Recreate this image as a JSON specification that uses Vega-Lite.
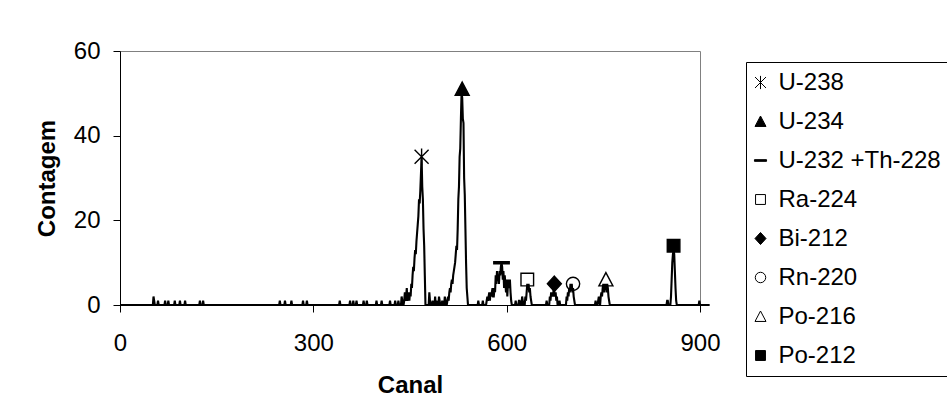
{
"$schema": "https://vega.github.io/schema/vega-lite/v6.json",
"autosize": "none",
"width": 580,
"height": 254,
"padding": {"left": 120, "top": 51, "right": 247, "bottom": 112},
"background": "white",
"config": {
  "view": {"stroke": "#808080", "strokeWidth": 1},
  "font": "Liberation Sans",
  "axis": {"domainColor": "black", "tickColor": "black", "labelColor": "black", "titleColor": "black", "grid": false, "labelFont": "Liberation Sans", "titleFont": "Liberation Sans", "labelFontSize": 24, "titleFontSize": 24, "titleFontWeight": "bold", "tickSize": 7, "domainWidth": 1, "tickWidth": 1},
  "legend": {"title": null, "orient": "none", "legendX": 626, "legendY": 11, "strokeColor": "black", "fillColor": "white", "padding": 8.5, "labelFont": "Liberation Sans", "labelFontSize": 24, "labelColor": "black", "labelLimit": 400, "symbolSize": 121, "symbolStrokeWidth": 1, "symbolOffset": -6, "labelOffset": 6, "rowPadding": 15}
},
"datasets": {
  "spectrum": [
{"canal":0,"contagem":0},{"canal":51,"contagem":0},{"canal":52,"contagem":2},{"canal":53,"contagem":1},{"canal":54,"contagem":0},
{"canal":58,"contagem":0},{"canal":59,"contagem":1},{"canal":60,"contagem":0},{"canal":69,"contagem":0},{"canal":70,"contagem":1},{"canal":71,"contagem":0},
{"canal":74,"contagem":0},{"canal":75,"contagem":1},{"canal":76,"contagem":0},{"canal":84,"contagem":0},{"canal":85,"contagem":1},{"canal":86,"contagem":0},
{"canal":92,"contagem":0},{"canal":93,"contagem":1},{"canal":94,"contagem":0},{"canal":100,"contagem":0},{"canal":101,"contagem":1},{"canal":102,"contagem":0},
{"canal":123,"contagem":0},{"canal":124,"contagem":1},{"canal":125,"contagem":0},{"canal":128,"contagem":0},{"canal":129,"contagem":1},{"canal":130,"contagem":0},
{"canal":247,"contagem":0},{"canal":248,"contagem":1},{"canal":249,"contagem":0},{"canal":255,"contagem":0},{"canal":256,"contagem":1},{"canal":257,"contagem":0},
{"canal":265,"contagem":0},{"canal":266,"contagem":1},{"canal":267,"contagem":0},{"canal":283,"contagem":0},{"canal":284,"contagem":1},{"canal":285,"contagem":0},
{"canal":289,"contagem":0},{"canal":290,"contagem":1},{"canal":291,"contagem":0},{"canal":340,"contagem":0},{"canal":341,"contagem":1},{"canal":342,"contagem":0},
{"canal":356,"contagem":0},{"canal":357,"contagem":1},{"canal":358,"contagem":0},{"canal":361,"contagem":0},{"canal":362,"contagem":1},{"canal":363,"contagem":0},
{"canal":366,"contagem":0},{"canal":367,"contagem":1},{"canal":368,"contagem":0},{"canal":377,"contagem":0},{"canal":378,"contagem":1},{"canal":379,"contagem":0},
{"canal":382,"contagem":0},{"canal":383,"contagem":1},{"canal":384,"contagem":0},{"canal":397,"contagem":0},{"canal":398,"contagem":1},{"canal":399,"contagem":0},
{"canal":405,"contagem":0},{"canal":406,"contagem":1},{"canal":407,"contagem":0},{"canal":418,"contagem":0},{"canal":419,"contagem":1},{"canal":420,"contagem":0},
{"canal":426,"contagem":0},{"canal":427,"contagem":1},{"canal":428,"contagem":0},{"canal":431,"contagem":0},{"canal":432,"contagem":1},{"canal":433,"contagem":0},
{"canal":436,"contagem":0},{"canal":437,"contagem":2},{"canal":438,"contagem":1},{"canal":439,"contagem":0},{"canal":440,"contagem":0},{"canal":441,"contagem":1},
{"canal":442,"contagem":3},{"canal":443,"contagem":1},{"canal":444,"contagem":2},{"canal":445,"contagem":4},{"canal":446,"contagem":1},{"canal":447,"contagem":2},
{"canal":448,"contagem":3},{"canal":449,"contagem":1},{"canal":450,"contagem":3},{"canal":451,"contagem":2},{"canal":452,"contagem":5},{"canal":453,"contagem":4},
{"canal":454,"contagem":7},{"canal":455,"contagem":9},{"canal":456,"contagem":8},{"canal":457,"contagem":11},{"canal":458,"contagem":13},{"canal":459,"contagem":12},
{"canal":460,"contagem":15},{"canal":461,"contagem":17},{"canal":462,"contagem":19},{"canal":463,"contagem":21},{"canal":464,"contagem":25},{"canal":465,"contagem":24},
{"canal":466,"contagem":27},{"canal":467,"contagem":31},{"canal":468,"contagem":35},{"canal":469,"contagem":28},{"canal":470,"contagem":25},{"canal":471,"contagem":18},
{"canal":472,"contagem":14},{"canal":473,"contagem":7},{"canal":474,"contagem":0},{"canal":479,"contagem":0},{"canal":480,"contagem":3},{"canal":481,"contagem":1},
{"canal":482,"contagem":0},{"canal":484,"contagem":0},{"canal":485,"contagem":1},{"canal":486,"contagem":0},{"canal":488,"contagem":0},{"canal":489,"contagem":2},
{"canal":490,"contagem":0},{"canal":491,"contagem":1},{"canal":492,"contagem":0},{"canal":494,"contagem":0},{"canal":495,"contagem":2},{"canal":496,"contagem":1},
{"canal":497,"contagem":0},{"canal":499,"contagem":0},{"canal":500,"contagem":1},{"canal":501,"contagem":0},{"canal":503,"contagem":0},{"canal":504,"contagem":2},
{"canal":505,"contagem":1},{"canal":506,"contagem":0},{"canal":507,"contagem":0},{"canal":508,"contagem":1},{"canal":509,"contagem":2},{"canal":510,"contagem":1},
{"canal":511,"contagem":3},{"canal":512,"contagem":4},{"canal":513,"contagem":3},{"canal":514,"contagem":5},{"canal":515,"contagem":6},{"canal":516,"contagem":5},
{"canal":517,"contagem":7},{"canal":518,"contagem":8},{"canal":519,"contagem":9},{"canal":520,"contagem":10},{"canal":521,"contagem":12},{"canal":522,"contagem":14},
{"canal":523,"contagem":13},{"canal":524,"contagem":18},{"canal":525,"contagem":25},{"canal":526,"contagem":28},{"canal":527,"contagem":35},{"canal":528,"contagem":37},
{"canal":529,"contagem":44},{"canal":530,"contagem":50},{"canal":531,"contagem":49},{"canal":532,"contagem":44},{"canal":533,"contagem":43},{"canal":534,"contagem":30},
{"canal":535,"contagem":26},{"canal":536,"contagem":18},{"canal":537,"contagem":10},{"canal":538,"contagem":4},{"canal":539,"contagem":2},{"canal":540,"contagem":0},
{"canal":555,"contagem":0},{"canal":556,"contagem":1},{"canal":557,"contagem":0},{"canal":562,"contagem":0},{"canal":563,"contagem":1},{"canal":564,"contagem":0},
{"canal":568,"contagem":0},{"canal":569,"contagem":1},{"canal":570,"contagem":2},{"canal":571,"contagem":1},{"canal":572,"contagem":2},{"canal":573,"contagem":3},
{"canal":574,"contagem":1},{"canal":575,"contagem":3},{"canal":576,"contagem":2},{"canal":577,"contagem":3},{"canal":578,"contagem":4},{"canal":579,"contagem":2},
{"canal":580,"contagem":2},{"canal":581,"contagem":4},{"canal":582,"contagem":3},{"canal":583,"contagem":7},{"canal":584,"contagem":5},{"canal":585,"contagem":8},
{"canal":586,"contagem":6},{"canal":587,"contagem":7},{"canal":588,"contagem":5},{"canal":589,"contagem":8},{"canal":590,"contagem":7},{"canal":591,"contagem":9},
{"canal":592,"contagem":10},{"canal":593,"contagem":9},{"canal":594,"contagem":6},{"canal":595,"contagem":8},{"canal":596,"contagem":4},{"canal":597,"contagem":7},
{"canal":598,"contagem":5},{"canal":599,"contagem":3},{"canal":600,"contagem":6},{"canal":601,"contagem":2},{"canal":602,"contagem":5},{"canal":603,"contagem":6},
{"canal":604,"contagem":4},{"canal":605,"contagem":6},{"canal":606,"contagem":3},{"canal":607,"contagem":1},{"canal":608,"contagem":0},
{"canal":613,"contagem":0},{"canal":614,"contagem":1},{"canal":615,"contagem":0},{"canal":618,"contagem":0},{"canal":619,"contagem":1},{"canal":620,"contagem":1},
{"canal":621,"contagem":0},{"canal":623,"contagem":0},{"canal":624,"contagem":2},{"canal":625,"contagem":1},{"canal":626,"contagem":0},
{"canal":628,"contagem":0},{"canal":629,"contagem":2},{"canal":630,"contagem":1},{"canal":631,"contagem":3},{"canal":632,"contagem":5},{"canal":633,"contagem":4},
{"canal":634,"contagem":5},{"canal":635,"contagem":3},{"canal":636,"contagem":4},{"canal":637,"contagem":2},{"canal":638,"contagem":1},{"canal":639,"contagem":0},
{"canal":661,"contagem":0},{"canal":662,"contagem":1},{"canal":663,"contagem":0},{"canal":666,"contagem":0},{"canal":667,"contagem":2},{"canal":668,"contagem":1},
{"canal":669,"contagem":3},{"canal":670,"contagem":2},{"canal":671,"contagem":3},{"canal":672,"contagem":2},{"canal":673,"contagem":4},{"canal":674,"contagem":3},
{"canal":675,"contagem":2},{"canal":676,"contagem":3},{"canal":677,"contagem":1},{"canal":678,"contagem":2},{"canal":679,"contagem":0},
{"canal":681,"contagem":0},{"canal":682,"contagem":1},{"canal":683,"contagem":0},
{"canal":692,"contagem":0},{"canal":693,"contagem":2},{"canal":694,"contagem":1},{"canal":695,"contagem":3},{"canal":696,"contagem":2},{"canal":697,"contagem":4},
{"canal":698,"contagem":3},{"canal":699,"contagem":5},{"canal":700,"contagem":4},{"canal":701,"contagem":5},{"canal":702,"contagem":3},{"canal":703,"contagem":4},
{"canal":704,"contagem":2},{"canal":705,"contagem":1},{"canal":706,"contagem":0},
{"canal":737,"contagem":0},{"canal":738,"contagem":1},{"canal":739,"contagem":0},{"canal":741,"contagem":0},{"canal":742,"contagem":1},{"canal":743,"contagem":2},
{"canal":744,"contagem":1},{"canal":745,"contagem":0},{"canal":746,"contagem":2},{"canal":747,"contagem":3},{"canal":748,"contagem":2},{"canal":749,"contagem":4},
{"canal":750,"contagem":5},{"canal":751,"contagem":3},{"canal":752,"contagem":5},{"canal":753,"contagem":4},{"canal":754,"contagem":5},{"canal":755,"contagem":3},
{"canal":756,"contagem":5},{"canal":757,"contagem":4},{"canal":758,"contagem":2},{"canal":759,"contagem":1},{"canal":760,"contagem":0},
{"canal":848,"contagem":0},{"canal":849,"contagem":1},{"canal":850,"contagem":1},{"canal":851,"contagem":0},{"canal":854,"contagem":0},{"canal":855,"contagem":2},
{"canal":856,"contagem":6},{"canal":857,"contagem":10},{"canal":858,"contagem":12},{"canal":859,"contagem":13},{"canal":860,"contagem":12},{"canal":861,"contagem":8},
{"canal":862,"contagem":4},{"canal":863,"contagem":1},{"canal":864,"contagem":0},
{"canal":898,"contagem":0},{"canal":899,"contagem":1},{"canal":900,"contagem":0},{"canal":915,"contagem":0}
  ],
  "peaks": [
{"nuclideo":"U-238","canal":468,"contagem":35},
{"nuclideo":"U-234","canal":531,"contagem":51},
{"nuclideo":"U-232 +Th-228","canal":592,"contagem":10},
{"nuclideo":"Ra-224","canal":632,"contagem":6},
{"nuclideo":"Bi-212","canal":674,"contagem":5},
{"nuclideo":"Rn-220","canal":703,"contagem":5},
{"nuclideo":"Po-216","canal":754,"contagem":6},
{"nuclideo":"Po-212","canal":859,"contagem":14}
  ]
},
"layer": [
  {
    "data": {"name": "spectrum"},
    "mark": {"type": "line", "color": "black", "strokeWidth": 2.1, "clip": false},
    "encoding": {
      "x": {"field": "canal", "type": "quantitative", "scale": {"domain": [0, 900], "nice": false},
            "axis": {"values": [0, 300, 600, 900], "title": "Canal", "labelPadding": 19, "titlePadding": 18, "labelFlush": false}},
      "y": {"field": "contagem", "type": "quantitative", "scale": {"domain": [0, 60], "nice": false},
            "axis": {"values": [0, 20, 40, 60], "title": "Contagem", "labelPadding": 13, "titlePadding": 14}}
    }
  },
  {
    "data": {"name": "peaks"},
    "mark": {"type": "point", "size": 196, "strokeWidth": 1.4, "opacity": 1, "clip": false},
    "encoding": {
      "x": {"field": "canal", "type": "quantitative"},
      "y": {"field": "contagem", "type": "quantitative"},
      "shape": {"field": "nuclideo", "type": "nominal",
        "scale": {"domain": ["U-238","U-234","U-232 +Th-228","Ra-224","Bi-212","Rn-220","Po-216","Po-212"],
                  "range": ["M-1,-1L1,1M-1,1L1,-1M0,-1.2L0,1.2","M0,-1L1,0.9L-1,0.9Z","M-1.1,-0.15L1.1,-0.15L1.1,0.15L-1.1,0.15Z","M-0.9,-0.9L0.9,-0.9L0.9,0.9L-0.9,0.9Z","M0,-1.1L1,0L0,1.1L-1,0Z","M0.95,0A0.95,0.95,0,1,1,-0.95,0A0.95,0.95,0,1,1,0.95,0Z","M0,-1L1,0.9L-1,0.9Z","M-0.9,-0.9L0.9,-0.9L0.9,0.9L-0.9,0.9Z"]}},
      "fill": {"field": "nuclideo", "type": "nominal",
        "scale": {"domain": ["U-238","U-234","U-232 +Th-228","Ra-224","Bi-212","Rn-220","Po-216","Po-212"],
                  "range": ["transparent","black","black","transparent","black","transparent","transparent","black"]}},
      "stroke": {"field": "nuclideo", "type": "nominal",
        "scale": {"domain": ["U-238","U-234","U-232 +Th-228","Ra-224","Bi-212","Rn-220","Po-216","Po-212"],
                  "range": ["black","black","black","black","black","black","black","black"]}}
    }
  }
]
}
